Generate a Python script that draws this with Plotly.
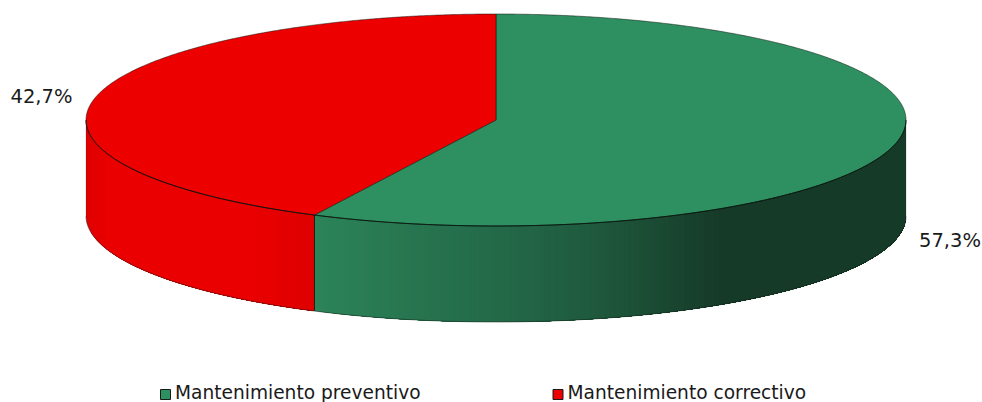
import numpy as np
import plotly.graph_objects as go

# Chart data
categories = ["Mantenimiento preventivo", "Mantenimiento correctivo"]
shares = [57.3, 42.7]
top_colors = ["#2e8f60", "#ec0000"]

# Disc geometry in page pixels
CX, CY, RX, RY, DEPTH = 496.0, 120.0, 410.0, 106.0, 96.0
FONT = "DejaVu Sans"
TEXT = "#1a1a1a"

# Horizontal shading of the rim: x stop, then r, g, b at that stop
rim_stops = {
    0: [(314, 44, 132, 89), (420, 39, 116, 79), (500, 35, 105, 72),
        (590, 31, 90, 62), (650, 27, 76, 52), (720, 22, 58, 40), (906, 22, 58, 40)],
    1: [(86, 222, 0, 0), (110, 234, 0, 0), (250, 234, 0, 0), (314, 222, 0, 0)],
}


def rim_point(theta, drop=0.0):
    """Point on the disc edge, theta measured clockwise from 12 o'clock."""
    return CX + RX * np.sin(theta), CY - RY * np.cos(theta) + drop


def rim_colour(idx, x):
    s = np.array(rim_stops[idx], dtype=float)
    r, g, b = (np.interp(x, s[:, 0], s[:, c]) for c in (1, 2, 3))
    return f"rgb({r:.0f},{g:.0f},{b:.0f})"


def poly(fig, x, y, fill=None, line=None, width=0.0):
    fig.add_trace(go.Scatter(
        x=x, y=y, mode="lines", fill="toself" if fill else "none", fillcolor=fill,
        line=dict(color=line or "rgba(0,0,0,0)", width=width, simplify=False),
        hoverinfo="skip", showlegend=False,
    ))


fig = go.Figure()

# Slice boundaries follow the shares, starting at 12 o'clock
edges = np.radians(np.cumsum([0.0] + shares) / sum(shares) * 360.0)
slices = [(edges[i], edges[i + 1]) for i in range(len(shares))]

# Visible front rim of each slice; every band is painted through to the far end
# of the slice and then overlaid by the next, so no seams show between bands
for idx, (a0, a1) in enumerate(slices):
    lo, hi = max(a0, np.pi / 2), min(a1, 3 * np.pi / 2)
    xs_lo, xs_hi = sorted((rim_point(lo)[0], rim_point(hi)[0]))
    bands = np.arange(xs_lo, xs_hi, 5.0)
    # Angles on this half of the disc come from x via the arcsine
    for b0 in bands:
        t0 = np.pi - np.arcsin(np.clip((b0 - CX) / RX, -1, 1))
        t0 = np.clip(t0, lo, hi)
        ts = np.linspace(lo, t0, 160)  # from the band's x over to the slice's right end
        xa, ya = rim_point(ts)
        xb, yb = rim_point(ts[::-1], DEPTH)
        col = rim_colour(idx, b0 + 2.5)
        poly(fig, [*xa, *xb, xa[0]], [*ya, *yb, ya[0]], fill=col)

# Outline of the rim, lower edge and the vertical seams
for a0, a1 in slices:
    lo, hi = max(a0, np.pi / 2), min(a1, 3 * np.pi / 2)
    x, y = rim_point(np.linspace(lo, hi, 300), DEPTH)
    poly(fig, x, y, line="rgba(20,30,25,0.7)", width=0.7)
sx, sy = rim_point(edges[1])
poly(fig, [sx, sx], [sy, sy + DEPTH], line="#10201a", width=0.9)
for ang in (np.pi / 2, 3 * np.pi / 2):
    sx, sy = rim_point(ang)
    poly(fig, [sx, sx], [sy, sy + DEPTH], line="rgba(20,30,25,0.3)", width=0.6)

# Top faces
for (a0, a1), col in zip(slices, top_colors):
    x, y = rim_point(np.linspace(a0, a1, 500))
    poly(fig, [CX, *x, CX], [CY, *y, CY], fill=col, line="#0a140f", width=0.5)

# Firmer line where the top face meets the front rim
x, y = rim_point(np.linspace(np.pi / 2, 3 * np.pi / 2, 600))
poly(fig, x, y, line="#0a140f", width=0.9)

# Percentage labels
value_labels = [f"{v:.1f}%".replace(".", ",") for v in shares]
label_pos = [(950, 242.5), (41.5, 98.5)]
for txt, (lx, ly) in zip(value_labels, label_pos):
    fig.add_trace(go.Scatter(
        x=[lx], y=[ly], mode="text", text=[txt], textposition="middle center",
        textfont=dict(family=FONT, size=19.5, color=TEXT),
        hoverinfo="skip", showlegend=False,
    ))

# Legend row along the bottom
legend_x = [165.5, 558]
for name, col, lx in zip(categories, top_colors, legend_x):
    fig.add_trace(go.Scatter(
        x=[lx], y=[394.5], mode="markers",
        marker=dict(symbol="square", size=10, color=col, line=dict(color="#1a1a1a", width=1)),
        hoverinfo="skip", showlegend=False,
    ))
    fig.add_trace(go.Scatter(
        x=[lx + 9.5], y=[394], mode="text", text=[name], textposition="middle right",
        textfont=dict(family=FONT, size=18.6, color=TEXT),
        hoverinfo="skip", showlegend=False, cliponaxis=False,
    ))

fig.update_layout(
    width=982, height=402, margin=dict(l=0, r=0, t=0, b=0),
    paper_bgcolor="white", plot_bgcolor="white", showlegend=False,
    xaxis=dict(range=[0, 982], visible=False, fixedrange=True),
    yaxis=dict(range=[402, 0], visible=False, fixedrange=True),
)

fig.write_html("out.html", config={"displayModeBar": False})
